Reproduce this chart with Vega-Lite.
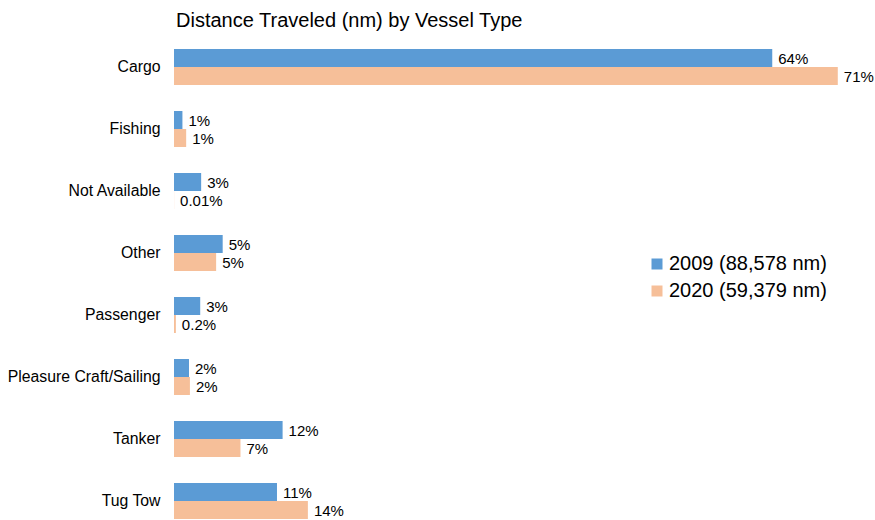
{
  "$schema": "https://vega.github.io/schema/vega-lite/v6.json",
  "autosize": "none",
  "width": 690,
  "height": 496,
  "padding": {"left": 174, "top": 36, "right": 11, "bottom": 0},
  "background": "white",
  "title": {
    "text": "Distance Traveled (nm) by Vessel Type",
    "anchor": "start",
    "frame": "group",
    "fontSize": 20,
    "font": "Liberation Sans",
    "fontWeight": "normal",
    "color": "#000000",
    "offset": 5,
    "dx": 2
  },
  "config": {"view": {"stroke": null}},
  "data": {
    "values": [
      {"vessel": "Cargo", "year": "2009 (88,578 nm)", "pct": 63.9, "label": "64%"},
      {"vessel": "Cargo", "year": "2020 (59,379 nm)", "pct": 70.9, "label": "71%"},
      {"vessel": "Fishing", "year": "2009 (88,578 nm)", "pct": 0.9, "label": "1%"},
      {"vessel": "Fishing", "year": "2020 (59,379 nm)", "pct": 1.3, "label": "1%"},
      {"vessel": "Not Available", "year": "2009 (88,578 nm)", "pct": 2.9, "label": "3%"},
      {"vessel": "Not Available", "year": "2020 (59,379 nm)", "pct": 0.01, "label": "0.01%"},
      {"vessel": "Other", "year": "2009 (88,578 nm)", "pct": 5.2, "label": "5%"},
      {"vessel": "Other", "year": "2020 (59,379 nm)", "pct": 4.5, "label": "5%"},
      {"vessel": "Passenger", "year": "2009 (88,578 nm)", "pct": 2.8, "label": "3%"},
      {"vessel": "Passenger", "year": "2020 (59,379 nm)", "pct": 0.2, "label": "0.2%"},
      {"vessel": "Pleasure Craft/Sailing", "year": "2009 (88,578 nm)", "pct": 1.6, "label": "2%"},
      {"vessel": "Pleasure Craft/Sailing", "year": "2020 (59,379 nm)", "pct": 1.7, "label": "2%"},
      {"vessel": "Tanker", "year": "2009 (88,578 nm)", "pct": 11.6, "label": "12%"},
      {"vessel": "Tanker", "year": "2020 (59,379 nm)", "pct": 7.1, "label": "7%"},
      {"vessel": "Tug Tow", "year": "2009 (88,578 nm)", "pct": 11.0, "label": "11%"},
      {"vessel": "Tug Tow", "year": "2020 (59,379 nm)", "pct": 14.3, "label": "14%"}
    ]
  },
  "encoding": {
    "y": {
      "field": "vessel",
      "type": "nominal",
      "sort": null,
      "scale": {"paddingInner": 0.42, "paddingOuter": 0.21},
      "axis": {
        "title": null,
        "ticks": false,
        "domain": false,
        "labelPadding": 14,
        "labelFontSize": 15.8,
        "labelFont": "Liberation Sans",
        "labelColor": "#000000"
      }
    },
    "yOffset": {"field": "year", "type": "nominal", "sort": null},
    "x": {
      "field": "pct",
      "type": "quantitative",
      "scale": {"domain": [0, 73.7]},
      "axis": null
    }
  },
  "layer": [
    {
      "mark": {"type": "bar", "stroke": null},
      "encoding": {
        "color": {
          "field": "year",
          "type": "nominal",
          "scale": {"range": ["#5B9BD5", "#F6BF99"]},
          "legend": {
            "title": null,
            "orient": "none",
            "legendX": 473,
            "legendY": 218,
            "labelFontSize": 20,
            "labelFont": "Liberation Sans",
            "labelColor": "#000000",
            "symbolType": "square",
            "symbolSize": 121,
            "rowPadding": 7,
            "labelOffset": 2
          }
        }
      }
    },
    {
      "mark": {"type": "text", "align": "left", "baseline": "middle", "dx": 6, "dy": 1, "fontSize": 15, "font": "Liberation Sans", "color": "#000000"},
      "encoding": {"text": {"field": "label"}}
    }
  ]
}
